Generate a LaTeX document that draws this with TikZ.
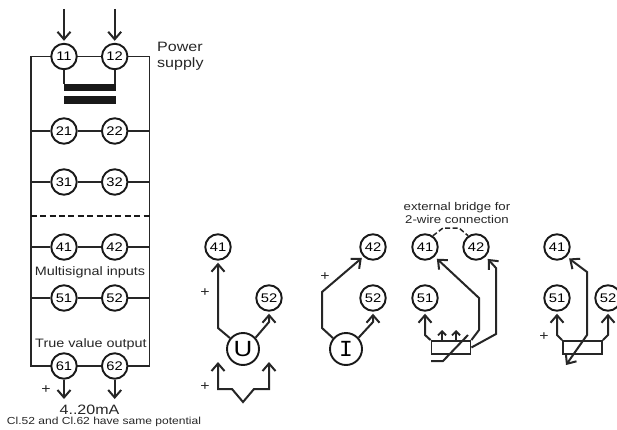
\documentclass[tikz,border=0pt]{standalone}
\usepackage{fontspec}
\setmainfont{Liberation Sans}
\newfontfamily\widefont[FakeStretch=1.18]{Liberation Sans}
\newfontfamily\monofont{Liberation Mono}
\usetikzlibrary{arrows.meta}
\tikzset{
  barb/.tip={Straight Barb[length=7.5pt,width=13pt,line width=2pt]},
  term/.style={circle,draw=black!90,line width=1.9pt,minimum size=25.5pt,inner sep=0pt,fill=white,font=\widefont\fontsize{12.5}{13}\selectfont},
  meter/.style={circle,draw=black!90,line width=1.9pt,minimum size=32pt,inner sep=0pt,fill=white},
  label/.style={inner sep=0pt,font=\widefont\fontsize{12.2}{14}\selectfont,text=black!85},
  small/.style={inner sep=0pt,font=\widefont\fontsize{11.2}{12}\selectfont,text=black!85},
  plus/.style={inner sep=0pt,font=\widefont\fontsize{13.5}{14}\selectfont,text=black!85},
  wire/.style={line width=1.6pt,draw=black!85},
  feed/.style={line width=2pt,draw=black!85,line join=miter},
  arrowed/.style={feed,-barb,shorten >=2pt},
  tinyarrow/.style={line width=1.8pt,draw=black!85,-{Straight Barb[length=4pt,width=8pt,line width=1.8pt]}},
  bar/.style={fill=black!90,draw=none},
  resistor/.style={draw=black!85,line width=1.8pt,fill=white,minimum width=39pt,minimum height=13pt,inner sep=0pt}
}
\begin{document}
\begin{tikzpicture}[x=1pt,y=-1pt]
\useasboundingbox (0,0) rectangle (617,430);
% rails
\coordinate (tl) at (30.7,56.5);
\coordinate (tr) at (149.5,56.5);
\coordinate (bl) at (30.7,366);
\coordinate (br) at (149.5,366);
\draw[wire] (tl) -- (bl) -- (br) -- (tr) -- cycle;
\foreach \n/\y in {1/56.5,2/131,3/182,4/247,5/298,6/366}{
  \node[term] (a\n1) at (64,\y) {\n1};
  \node[term] (a\n2) at (114.7,\y) {\n2};
  \draw[wire] (a\n1.west -| tl) -- (a\n1.west);
  \draw[wire] (a\n1.east) -- (a\n2.west);
  \draw[wire] (a\n2.east) -- (a\n2.east -| tr);
}
% power supply
\coordinate (in1) at (64,9);
\coordinate (in2) at (114.7,9);
\draw[arrowed] (in1) -- (a11.north);
\draw[arrowed] (in2) -- (a12.north);
\node[bar,minimum width=52pt,minimum height=7.5pt,inner sep=0pt] (b1) at (90,87.5) {};
\node[bar,minimum width=52pt,minimum height=8pt,inner sep=0pt] (b2) at (90,100) {};
\draw[feed] (a11.south) -- (a11.south |- b1.north);
\draw[feed] (a12.south) -- (a12.south |- b1.north);
\node[label,font=\widefont\fontsize{13.6}{16}\selectfont,align=left,anchor=west] (ps) at (157,56.5) {Power\\supply};
% dashed divider
\coordinate (d1) at (30.7,215.7);
\coordinate (d2) at (149.5,215.7);
\draw[line width=2pt,dash pattern=on 6pt off 3.4pt,black!90] (d1) -- (d2);
\node[label] (t1) at (90,272.5) {Multisignal inputs};
\node[label] (t2) at (91,344) {True value output};
\coordinate (o1) at (64,401);
\coordinate (o2) at (114.7,401);
\draw[arrowed] (a61.south) -- (o1);
\draw[arrowed] (a62.south) -- (o2);
\node[plus] (p0) at (46,390) {+};
\node[label,font=\widefont\fontsize{13.6}{14}\selectfont] (t3) at (89.5,409.5) {4..20mA};
\node[small,font=\widefont\fontsize{10.2}{11}\selectfont] (t4) at (104,421.5) {Cl.52 and Cl.62 have same potential};
% U
\node[term] (u41) at (218,247) {41};
\node[term] (u52) at (269,298) {52};
\node[meter,font=\widefont\fontsize{22}{23}\selectfont] (U) at (243,349) {U};
\draw[arrowed] (U.140) -- (218,328) -- (u41.south);
\draw[arrowed] (U.42) -- (269,322) -- (u52.south);
\node[plus] (p1) at (205,293) {+};
\node[plus] (p2) at (205,387) {+};
\coordinate (ua) at (218,362);
\coordinate (ub) at (269,362);
\draw[feed,barb-barb] (ua) -- (218,389) -- (232,389) -- (243,402) -- (254,389) -- (269,389) -- (ub);
% I
\node[term] (i42) at (373,247) {42};
\node[term] (i52) at (373,298) {52};
\node[meter,font=\monofont\fontsize{23}{24}\selectfont] (I) at (346,349) {I};
\draw[arrowed] (I.140) -- (322,328) -- (322,292) -- (i42.225);
\draw[arrowed] (I.42) -- (373,322) -- (i52.south);
\node[plus] (p3) at (325,277) {+};
% RTD 3-wire
\node[small] (t5) at (457,208) {external bridge for};
\node[small] (t6) at (457,219.5) {2-wire connection};
\node[term] (r41) at (425,247) {41};
\node[term] (r42) at (476,247) {42};
\node[term] (r51) at (425,298) {51};
\node[resistor] (R1) at (451,347.5) {};
\draw[line width=1.5pt,black!85,dash pattern=on 5pt off 2.5pt] (r41.55) -- (443,228) -- (459,228) -- (r42.125);
\draw[arrowed] (R1.north west) -- (425,335) -- (r51.south);
\draw[tinyarrow] (442,341) -- (442,330);
\draw[tinyarrow] (456,341) -- (456,330);
\coordinate (s1) at (431,361);
\coordinate (s2) at (443,361);
\coordinate (s3) at (468,335);
\draw[feed] (s1) -- (s2) -- (s3);
\draw[arrowed,shorten >=3pt] (R1.north east) -- (479,330) -- (479,298) -- (r41.-45);
\draw[arrowed,shorten >=3pt] (R1.east) -- (496,334) -- (496,268) -- (r42.-45);
% RTD 2-wire
\node[term] (q41) at (557,247) {41};
\node[term] (q51) at (557,298) {51};
\node[term] (q52) at (608,298) {52};
\node[resistor] (R2) at (582.5,347.5) {};
\draw[arrowed] (R2.north west) -- (557,335) -- (q51.south);
\draw[arrowed] (R2.north east) -- (608,335) -- (q52.south);
\node[plus] (p4) at (544,337) {+};
\coordinate (w) at (566,365);
\draw[feed,barb-barb,shorten >=3pt] (w) -- (587,335) -- (587,272) -- (q41.-45);
\end{tikzpicture}
\end{document}
